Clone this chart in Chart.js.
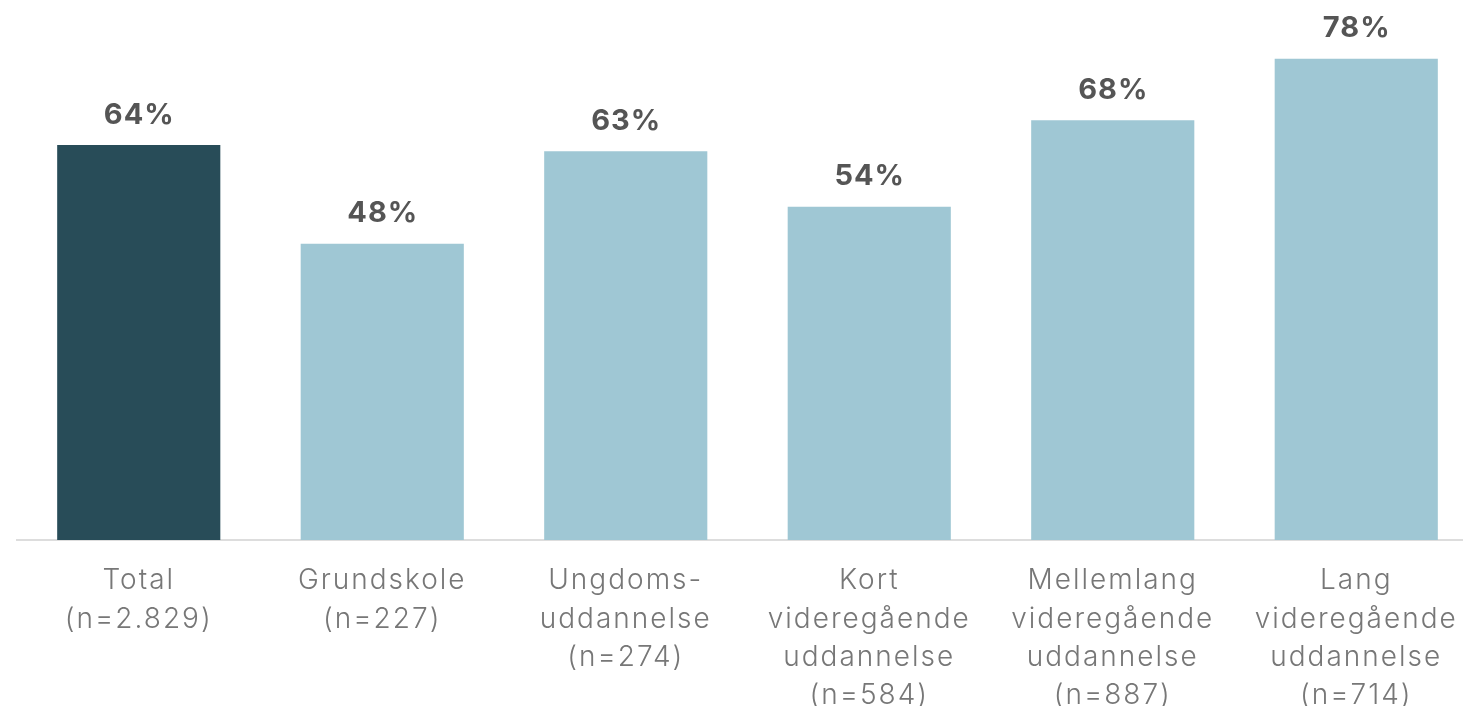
<!DOCTYPE html>
<html>
<head>
<meta charset="utf-8">
<script src="https://cdn.jsdelivr.net/npm/chart.js@4"></script>
<style>
  html, body { margin: 0; padding: 0; background: #fff; overflow: hidden; }
  #wrap { width: 1480px; height: 706px; }
</style>
</head>
<body>
<div id="wrap"><canvas id="chart"></canvas></div>
<script>
// categories (multi-line tick labels)
const categories = [
  ['Total', '(n=2.829)'],
  ['Grundskole', '(n=227)'],
  ['Ungdoms-', 'uddannelse', '(n=274)'],
  ['Kort', 'videregående', 'uddannelse', '(n=584)'],
  ['Mellemlang', 'videregående', 'uddannelse', '(n=887)'],
  ['Lang', 'videregående', 'uddannelse', '(n=714)']
];
const shares = [64, 48, 63, 54, 68, 78];
const barColors = ['#284c58', '#9fc7d4', '#9fc7d4', '#9fc7d4', '#9fc7d4', '#9fc7d4'];

// wider letter spacing to get closer to the original typeface
const spacing = {
  id: 'spacing',
  beforeDraw(chart) { chart.ctx.letterSpacing = '2px'; },
  afterDraw(chart) { chart.ctx.letterSpacing = '0px'; }
};

// value labels above the bars
const valueLabels = {
  id: 'valueLabels',
  afterDatasetsDraw(chart) {
    const ctx = chart.ctx;
    const meta = chart.getDatasetMeta(0);
    ctx.save();
    ctx.letterSpacing = '1px';
    ctx.font = '700 29px Inter';
    ctx.fillStyle = '#555555';
    ctx.textAlign = 'center';
    ctx.textBaseline = 'middle';
    meta.data.forEach((bar, i) => {
      ctx.fillText(shares[i] + '%', bar.x + 0.5, bar.y - 30);
    });
    ctx.restore();
  }
};

const ctx = document.getElementById('chart').getContext('2d');
new Chart(ctx, {
  type: 'bar',
  data: {
    labels: categories,
    datasets: [{
      data: shares,
      backgroundColor: barColors,
      barPercentage: 0.67,
      categoryPercentage: 1
    }]
  },
  options: {
    responsive: true,
    maintainAspectRatio: false,
    animation: false,
    layout: { padding: { left: 17, right: 2, top: 0, bottom: 0 } },
    plugins: { legend: { display: false }, tooltip: { enabled: false } },
    scales: {
      x: {
        grid: { display: false, drawTicks: false },
        border: { display: true, color: '#dddddd', width: 2 },
        ticks: {
          color: '#777777',
          padding: 22,
          maxRotation: 0,
          autoSkip: false,
          font: { family: 'Inter', size: 28, weight: 300, lineHeight: 1.36 }
        },
        afterFit(scale) { scale.height = 166; }
      },
      y: {
        display: false,
        min: 0,
        max: 87.5
      }
    }
  },
  plugins: [spacing, valueLabels]
});
</script>
</body>
</html>
